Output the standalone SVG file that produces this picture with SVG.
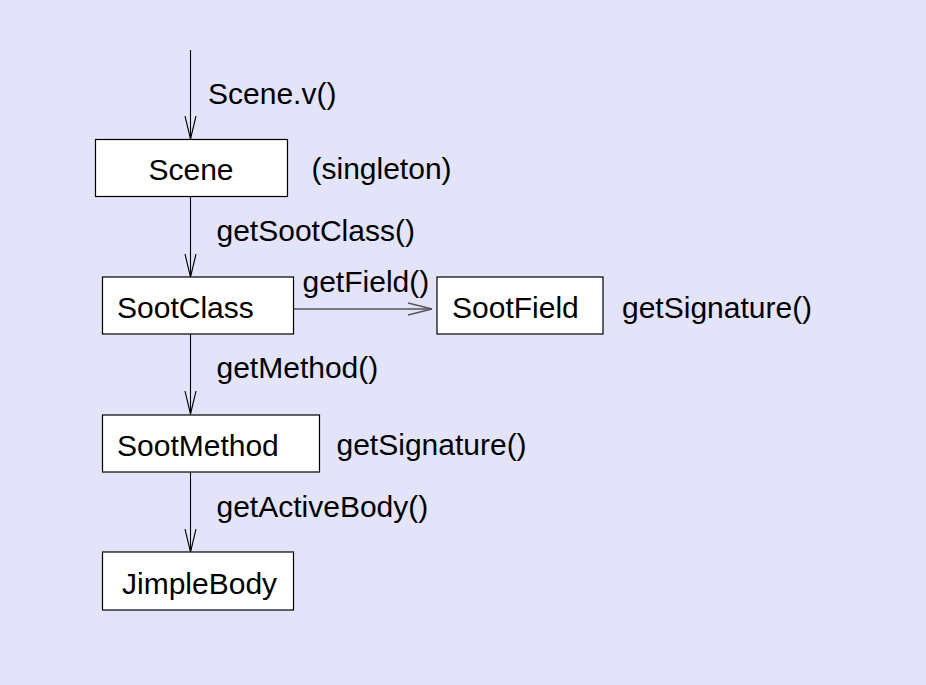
<svg xmlns="http://www.w3.org/2000/svg" width="926" height="685" viewBox="0 0 926 685">
<style>
.bg{fill:#e3e3fa}
.box{fill:#ffffff;stroke:#000000;stroke-width:1.2}
.t{font-family:"Liberation Sans",Arial,sans-serif;font-size:30px;fill:#000000}
.c{stroke:#000000;stroke-width:1.1;fill:none}
.h{stroke:#555555;stroke-width:1.6;fill:none}
</style>
<defs>
<marker id="arr" markerUnits="userSpaceOnUse" markerWidth="26" markerHeight="14" refX="23" refY="6" orient="auto" viewBox="0 0 26 14">
<path d="M0,0.5 L23,6 L0,11.5" fill="none" stroke="#000000" stroke-width="1.1"/>
</marker>
<marker id="arrh" markerUnits="userSpaceOnUse" markerWidth="26" markerHeight="16" refX="24" refY="7" orient="auto" viewBox="0 0 26 16">
<path d="M0,1 L24,7 L0,13" fill="none" stroke="#555555" stroke-width="1.4"/>
</marker>
</defs>
<rect class="bg" x="0" y="0" width="926" height="685"/>
<g id="connectors">
<line class="c" x1="190.5" y1="50" x2="190.5" y2="139" marker-end="url(#arr)"/>
<line class="c" x1="190.5" y1="197" x2="190.5" y2="277" marker-end="url(#arr)"/>
<line class="c" x1="190.5" y1="334" x2="190.5" y2="414" marker-end="url(#arr)"/>
<line class="c" x1="190.5" y1="472" x2="190.5" y2="552" marker-end="url(#arr)"/>
<line class="h" x1="293" y1="309" x2="432" y2="309" marker-end="url(#arrh)"/>
<text class="t" x="208" y="104">Scene.v()</text>
<text class="t" x="216.5" y="241">getSootClass()</text>
<text class="t" x="302.5" y="292">getField()</text>
<text class="t" x="216.5" y="378">getMethod()</text>
<text class="t" x="216.5" y="517">getActiveBody()</text>
</g>
<g id="scene">
<rect class="box" x="95.5" y="139.5" width="192" height="57"/>
<text class="t" x="191" y="180" text-anchor="middle">Scene</text>
<text class="t" x="311.5" y="179">(singleton)</text>
</g>
<g id="sootclass">
<rect class="box" x="102.5" y="277" width="191" height="57"/>
<text class="t" x="117" y="318">SootClass</text>
</g>
<g id="sootfield">
<rect class="box" x="437" y="277" width="166" height="57"/>
<text class="t" x="452" y="318">SootField</text>
<text class="t" x="622" y="318">getSignature()</text>
</g>
<g id="sootmethod">
<rect class="box" x="102.5" y="415" width="217" height="57"/>
<text class="t" x="117" y="456">SootMethod</text>
<text class="t" x="336.5" y="455">getSignature()</text>
</g>
<g id="jimplebody">
<rect class="box" x="102.5" y="552" width="191" height="58"/>
<text class="t" x="122" y="594">JimpleBody</text>
</g>
</svg>
